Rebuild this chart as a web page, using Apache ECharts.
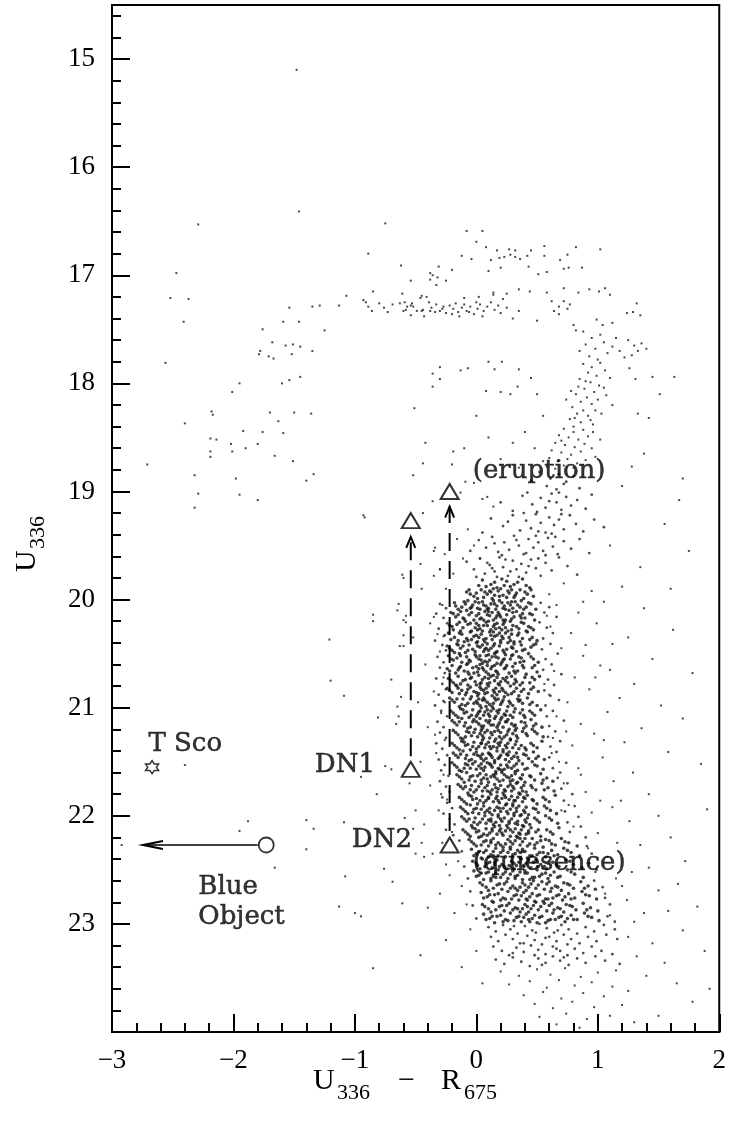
<!DOCTYPE html>
<html>
<head>
<meta charset="utf-8">
<script src="https://cdn.jsdelivr.net/npm/echarts@6/dist/echarts.min.js"></script>
<style>html,body{margin:0;padding:0;background:#fff}#c{width:729px;height:1122px}</style>
</head>
<body>
<div id="c"></div>
<script>
// ---- axis ticks ----
const xTickValues = [-3, -2, -1, 0, 1, 2];
const yTickValues = [15, 16, 17, 18, 19, 20, 21, 22, 23];

// ---- special objects ----
const dnQuiescent = [[-0.54, 21.57], [-0.22, 22.27]];
const dnEruption = [[-0.54, 19.27], [-0.22, 19.0]];
const dnArrows = [[-0.54, 21.45, -0.54, 19.42], [-0.22, 22.14, -0.22, 19.14]];
const tSco = [[-2.67, 21.55]];
const blueObject = [[-1.73, 22.27]];
const blueArrow = [[-1.80, 22.27, -2.745, 22.27]];
const annotationLabels = [
  { text: 'T Sco', at: [-2.704, 21.34], side: 'right' },
  { text: 'DN1', at: [-0.831, 21.53], side: 'left' },
  { text: 'DN2', at: [-0.526, 22.23], side: 'left' },
  { text: '(eruption)', at: [-0.033, 18.81], side: 'right' },
  { text: '(quiesence)', at: [-0.033, 22.44], side: 'right' },
  { text: 'Blue', at: [-2.293, 22.66], side: 'right' },
  { text: 'Object', at: [-2.293, 22.94], side: 'right' }
];

// ---- stars (U336-R675, U336) ----
const fieldStars = [
[-1.48,15.10],[-1.46,16.41],[-2.29,16.53],[-0.75,16.52],[-0.89,16.80],[-0.62,16.91],[-2.47,16.98],[-0.54,17.05],[-0.31,16.92],
[-2.52,17.21],[-2.37,17.22],[-2.41,17.43],[-1.07,17.19],[-0.85,17.15],
[-1.54,17.30],[-1.35,17.29],[-1.29,17.28],[-1.13,17.28],[-1.59,17.43],[-1.46,17.43],[-1.25,17.51],[-1.76,17.50],[-1.68,17.62],[-1.57,17.65],[-1.51,17.64],[-1.45,17.66],[-1.35,17.70],[-1.78,17.70],[-1.79,17.73],[-1.71,17.75],[-1.67,17.77],[-1.52,17.73],[-2.56,17.81],[-1.95,18.00],[-1.60,18.00],[-1.54,17.97],[-1.45,17.94],[-2.01,18.08],[-2.18,18.26],[-2.17,18.29],[-2.40,18.37],[-1.70,18.27],[-1.50,18.27],[-1.36,18.28],[-1.63,18.35],[-1.92,18.44],[-1.76,18.45],[-1.59,18.46],[-2.19,18.51],[-2.14,18.52],[-2.02,18.56],[-1.80,18.56],[-1.90,18.60],[-2.19,18.63],[-2.01,18.63],[-2.19,18.68],[-1.66,18.67],[-1.51,18.72],[-2.71,18.75],[-2.32,18.85],[-1.98,18.88],[-1.34,18.84],[-0.51,18.23],[-0.42,18.55],[-0.44,18.74],[-0.52,18.85],[-1.40,18.90],
[-2.29,19.02],[-1.95,19.03],[-1.80,19.08],[-2.32,19.15],[-0.93,19.22],[-0.85,20.14],[-1.21,20.37],[-1.20,20.75],[-1.09,20.89],[-0.81,21.09],[-0.70,20.74],[-0.64,20.04],[-0.61,19.77],[-0.60,20.19],[-0.60,20.33],[-0.60,20.43],[-0.65,20.99],[-0.64,21.08],[-0.66,21.15],[-2.40,21.53],[-0.95,21.64],[-0.75,21.54],[-0.70,21.57],[-0.82,21.80],[-1.88,22.05],[-1.95,22.14],[-1.40,22.04],[-1.34,22.12],[-1.09,22.06],[-1.40,22.31],[-1.66,22.48],[-1.08,22.56],[-0.88,22.21],[-0.76,22.49],[-0.69,22.61],[-0.61,22.81],[-1.13,22.84],[-1.00,22.90],[-0.95,22.93],[-2.92,22.27],[-0.46,23.29],[-0.85,23.41],[-0.59,22.02],[-0.52,22.12],[-0.45,22.25],[-0.43,22.38],[-0.50,21.95],
[-0.19,18.63],[-0.20,18.75],[-0.36,19.09],[-0.44,19.20],[-0.92,19.24],[-0.34,19.52],[-0.26,19.58],[-0.46,19.67],[-0.60,19.80],[-0.35,19.78],[-0.30,19.72],[-0.25,19.90],[-0.65,20.10],[-0.85,20.20],[-0.58,20.21],[-0.35,20.16],[-0.63,20.43],[-0.27,20.34],[-0.13,19.01],[-0.09,18.91],[-0.02,18.92],[0.05,19.07],[0.09,19.05],[0.14,19.14],[-0.07,19.35],[-0.16,19.44],[-0.02,19.50],[0.03,19.62],[-0.11,19.62],[-0.19,19.76]
];

const hbStars = [
[-0.93,17.23],[-0.91,17.25],[-0.89,17.29],[-0.86,17.33],[-0.80,17.26],[-0.76,17.3],[-0.73,17.34],[-0.69,17.27],
[-0.63,17.26],[-0.61,17.17],[-0.59,17.25],[-0.57,17.29],[-0.6,17.33],[-0.58,17.32],[-0.54,17.28],[-0.54,17.37],[-0.53,17.26],[-0.52,17.29],[-0.49,17.33],[-0.46,17.21],[-0.45,17.19],[-0.45,17.33],[-0.44,17.32],[-0.43,17.38],[-0.41,17.2],[-0.39,17.25],[-0.38,17.33],[-0.38,16.98],[-0.38,17.04],[-0.36,17.0],[-0.33,17.09],[-0.25,17.05],
[-0.37,17.3],[-0.33,17.27],[-0.3,17.33],[-0.27,17.29],[-0.25,17.35],[-0.22,17.28],[-0.19,17.31],[-0.17,17.26],[-0.15,17.34],[-0.12,17.3],[-0.1,17.27],[-0.08,17.33],[-0.05,17.29],[-0.02,17.36],[0.01,17.31],[0.03,17.27],[0.06,17.33],[0.09,17.29],[0.12,17.25],[0.15,17.32],[0.18,17.28],[0.22,17.22],[0.25,17.3],[-0.34,17.34],[-0.28,17.31],[-0.2,17.36],[-0.14,17.38],[-0.06,17.34],[0.0,17.25],[0.05,17.38],[-0.1,17.21],[0.14,17.18],[0.02,17.2],
[0.14,17.16],[0.25,17.17],[0.35,17.13],[0.44,17.15],[0.58,17.16],[0.72,17.12],[0.84,17.16],[0.93,17.13],[1.01,17.15],[1.06,17.12],[1.1,17.18]
];

const topArc = [
[-0.08,16.59],[0.05,16.59],[0.0,16.69],[0.08,16.74],[0.17,16.77],[0.27,16.76],[0.32,16.77],[0.45,16.77],[0.56,16.73],[0.82,16.74],[1.02,16.76],[-0.12,16.82],[-0.04,16.85],[0.12,16.86],[0.19,16.84],[0.23,16.83],[0.28,16.81],[0.32,16.83],[0.36,16.85],[0.42,16.82],[0.43,16.92],[0.56,16.82],[0.69,16.86],[0.75,16.81],[0.51,16.99],[0.58,16.97],[0.72,16.94],[0.76,16.93],[0.87,16.93],[0.2,16.93],[0.1,16.96],[-0.2,16.95],[-0.32,17.02],
[0.62,17.24],[0.68,17.29],[0.72,17.24],[0.64,17.33],[0.68,17.36],[0.75,17.31],[0.77,17.27],[1.24,17.35],[1.29,17.34],[1.35,17.37],[1.32,17.26],[0.99,17.41],[1.04,17.46],[1.12,17.44],[0.8,17.46],[0.82,17.51],[0.2,17.35],[0.3,17.4],[0.35,17.33],[0.5,17.42]
];

const rgbStars = [
[0.88,17.52],[0.95,17.58],[1.02,17.55],[0.9,17.64],[0.98,17.68],[1.05,17.62],[1.12,17.66],[1.08,17.72],[1.18,17.7],[1.25,17.6],[1.3,17.65],[1.36,17.63],[1.33,17.7],[1.4,17.68],[1.28,17.74],[0.93,17.75],[1.0,17.78],[1.15,17.58],[0.85,17.7],[1.22,17.76],
[0.88,17.82],[0.95,17.85],[1.02,17.81],[0.92,17.9],[0.99,17.93],[1.06,17.88],[0.85,17.96],[0.94,17.99],[1.01,18.02],[0.89,18.05],[0.97,18.08],[0.82,18.1],[1.05,18.04],[0.91,18.13],[0.86,18.17],[0.95,18.19],[0.79,18.22],[1.0,18.15],[0.88,18.25],[0.83,18.28],[0.92,18.3],[0.77,18.33],[0.86,18.36],[0.96,18.38],[0.8,18.4],[1.1,17.95],[0.98,18.25],[0.74,18.15],[1.12,18.2],[0.9,17.98],[0.84,18.03],[1.07,18.11],[0.81,18.32],[0.94,18.34],[1.03,18.28],[0.78,18.07],
[0.72,18.42],[0.8,18.45],[0.88,18.43],[0.68,18.48],[0.76,18.5],[0.84,18.52],[0.92,18.49],[0.65,18.55],[0.73,18.57],[0.81,18.59],[0.89,18.56],[0.62,18.62],[0.7,18.64],[0.78,18.66],[0.86,18.63],[0.95,18.6],[0.6,18.69],[0.67,18.72],[0.75,18.7],[0.83,18.74],[0.9,18.71],[0.58,18.77],[0.65,18.79],[0.72,18.76],[0.8,18.78],[0.98,18.68],[0.55,18.72],[1.02,18.52],[0.7,18.53],[0.96,18.45],
[0.1,17.8],[0.21,17.8],[-0.3,17.85],[-0.13,17.88],[-0.07,17.86],[0.15,17.87],[0.35,17.87],[-0.36,17.91],[-0.3,17.96],[-0.36,18.03],[0.08,18.07],[0.2,18.08],[0.28,18.1],[0.34,18.03],[0.5,18.1],[0.45,17.95],[0.55,18.3],[0.4,18.45],[0.3,18.55],[0.48,18.6],[0.2,18.7],[0.35,18.78],[0.1,18.5],[-0.1,18.6],[0.0,18.3],
[1.26,17.86],[1.31,17.96],[1.45,17.94],[1.63,17.94],[1.51,18.1],[1.33,18.28],[1.42,18.32],[1.7,18.88],[1.67,19.08],[1.28,18.77],[1.38,18.65],[1.2,18.95],[1.55,19.3],[1.75,19.55],[1.1,19.5],[1.35,19.7],[1.6,19.9]
];

const sgbStars = [
[0.52,18.82],[0.61,18.88],[0.68,18.84],[0.74,18.91],[0.8,18.86],[0.58,18.95],[0.66,18.98],[0.72,18.93],[0.85,18.97],[0.45,18.9],
[0.38,19.04],[0.46,19.12],[0.53,19.06],[0.57,19.15],[0.62,19.02],[0.66,19.1],[0.7,19.17],[0.74,19.05],[0.78,19.13],[0.83,19.08],[0.9,19.16],[0.2,19.1],[0.3,19.18],[0.5,19.19],[0.6,19.09],[0.68,19.01],[0.95,19.03],[0.42,19.01],
[0.12,19.25],[0.22,19.32],[0.3,19.22],[0.36,19.36],[0.41,19.27],[0.45,19.34],[0.49,19.21],[0.53,19.29],[0.57,19.38],[0.6,19.24],[0.64,19.31],[0.68,19.26],[0.72,19.35],[0.77,19.22],[0.82,19.3],[0.88,19.37],[0.97,19.26],[1.05,19.33],[0.05,19.38],[0.26,19.28],[0.39,19.2],[0.51,19.37],[0.62,19.39],[0.7,19.21],
[0.02,19.45],[0.08,19.52],[0.13,19.42],[0.18,19.56],[0.23,19.47],[0.27,19.54],[0.31,19.41],[0.35,19.5],[0.39,19.58],[0.43,19.44],[0.47,19.52],[0.51,19.47],[0.55,19.55],[0.59,19.43],[0.63,19.51],[0.67,19.58],[0.72,19.46],[0.78,19.53],[0.85,19.44],[0.93,19.57],[-0.05,19.55],[0.21,19.59],[0.33,19.45],[0.41,19.57],[0.49,19.41],[0.57,19.59],[0.65,19.42],[0.15,19.48],
[-0.08,19.65],[-0.02,19.72],[0.03,19.62],[0.07,19.76],[0.11,19.68],[0.15,19.74],[0.19,19.61],[0.22,19.7],[0.26,19.78],[0.3,19.64],[0.33,19.72],[0.37,19.67],[0.41,19.75],[0.45,19.63],[0.49,19.71],[0.53,19.78],[0.57,19.66],[0.62,19.73],[0.68,19.61],[0.75,19.69],[0.83,19.77],[0.0,19.79],[0.09,19.66],[0.17,19.79],[0.24,19.63],[0.28,19.74],[0.35,19.79],[0.43,19.69],[0.51,19.62],[0.13,19.71]
];

const msEdgeLeft = [
[-0.3,20.04],[-0.25,20.08],[-0.33,20.13],[-0.27,20.17],[-0.24,20.22],[-0.31,20.27],[-0.26,20.33],[-0.34,20.38],[-0.28,20.42],[-0.25,20.47],[-0.32,20.53],[-0.27,20.58],[-0.3,20.63],[-0.26,20.68],[-0.33,20.73],[-0.28,20.78],[-0.25,20.83],[-0.31,20.88],[-0.27,20.94],[-0.34,20.98],[-0.29,21.03],[-0.24,21.08],[-0.32,21.13],[-0.27,21.18],[-0.3,21.23],[-0.25,21.28],[-0.33,21.33],[-0.28,21.38],[-0.24,21.44],[-0.31,21.48],[-0.26,21.53],[-0.29,21.58],[-0.23,21.63],[-0.3,21.68],[-0.25,21.73],[-0.22,21.78],[-0.28,21.83],[-0.24,21.88],[-0.2,21.93],[-0.27,21.98],[-0.22,22.03],[-0.18,22.08],[-0.25,22.13],[-0.19,22.18],[-0.14,22.23],[-0.12,22.33],[-0.1,22.47],[-0.07,22.58],[-0.05,22.7],[-0.03,22.83],[0.0,22.95]
];

const msEdgeRight = [
[0.53,20.03],[0.6,20.07],[0.56,20.12],[0.66,20.16],[0.52,20.21],[0.58,20.26],[0.63,20.31],[0.55,20.36],[0.61,20.41],[0.54,20.46],[0.67,20.5],[0.57,20.55],[0.62,20.6],[0.55,20.65],[0.7,20.69],[0.59,20.74],[0.64,20.79],[0.56,20.84],[0.61,20.89],[0.68,20.93],[0.57,20.98],[0.63,21.03],[0.58,21.08],[0.72,21.12],[0.6,21.17],[0.65,21.22],[0.59,21.27],[0.69,21.31],[0.61,21.36],[0.66,21.41],[0.6,21.46],[0.74,21.51],[0.63,21.56],[0.69,21.6],[0.67,21.65],[0.75,21.7],[0.7,21.75],[0.79,21.8],[0.72,21.86],[0.81,21.91],[0.73,21.96],[0.84,22.01],[0.75,22.06],[0.86,22.1],[0.77,22.15],[0.9,22.2],[0.91,22.28],[0.95,22.35],[0.93,22.44],[0.99,22.5],[0.97,22.6],[1.04,22.66],[1.06,22.76],[1.1,22.82],[1.08,22.93],[1.14,22.98]
];

const msUpper = [
[0.05,19.82],[0.12,19.86],[0.21,19.81],[0.28,19.88],[0.34,19.84],[0.41,19.87],[0.17,19.89],[0.08,19.88],[0.25,19.83],[0.38,19.81],[0.02,19.87],[0.31,19.86],[0.15,19.84],[0.44,19.89],[0.23,19.87],
[-0.08,19.93],[-0.02,19.97],[0.04,19.91],[0.09,19.95],[0.13,19.99],[0.18,19.92],[0.22,19.96],[0.27,19.94],[0.31,19.98],[0.36,19.91],[0.42,19.95],[0.47,19.97],[0.01,19.99],[0.07,19.93],[0.15,19.96],[0.2,19.9],[0.25,19.98],[0.33,19.94],[0.39,19.99],[-0.05,19.95],[0.11,19.92],[0.29,19.91],
[-0.18,20.03],[-0.12,20.07],[-0.07,20.01],[-0.03,20.05],[0.01,20.08],[0.05,20.02],[0.08,20.06],[0.12,20.04],[0.16,20.09],[0.19,20.01],[0.23,20.06],[0.26,20.03],[0.3,20.08],[0.34,20.05],[0.37,20.01],[0.41,20.07],[0.45,20.04],[0.49,20.09],[-0.15,20.09],[-0.09,20.04],[-0.01,20.02],[0.03,20.09],[0.1,20.08],[0.14,20.01],[0.21,20.03],[0.28,20.05],[0.32,20.02],[0.39,20.09],[0.06,20.05],[0.17,20.06],[-0.05,20.08],[0.24,20.09],
[-0.21,20.12],[-0.17,20.16],[-0.13,20.11],[-0.1,20.18],[-0.06,20.14],[-0.02,20.19],[0.02,20.13],[0.04,20.17],[0.07,20.11],[0.11,20.15],[0.14,20.19],[0.18,20.12],[0.2,20.16],[0.25,20.14],[0.29,20.18],[0.33,20.11],[0.36,20.15],[0.4,20.17],[0.44,20.13],[0.48,20.19],[-0.08,20.1],[0.0,20.15],[0.09,20.14],[0.13,20.12],[0.16,20.17],[0.22,20.19],[0.27,20.1],[0.31,20.16],[0.38,20.13],[-0.15,20.14],[0.06,20.19],[0.19,20.14],
[-0.22,20.24],[-0.19,20.28],[-0.14,20.21],[-0.11,20.26],[-0.07,20.23],[-0.04,20.29],[0.0,20.22],[0.03,20.27],[0.06,20.24],[0.1,20.2],[0.12,20.28],[0.15,20.23],[0.19,20.26],[0.23,20.21],[0.26,20.29],[0.3,20.24],[0.35,20.27],[0.39,20.22],[0.43,20.25],[0.47,20.28],[-0.16,20.23],[-0.09,20.2],[-0.01,20.26],[0.05,20.29],[0.08,20.21],[0.14,20.25],[0.21,20.28],[0.28,20.2],[0.33,20.25],[0.41,20.29],[0.17,20.22],[0.02,20.24],[0.24,20.26],
[-0.23,20.31],[-0.18,20.35],[-0.15,20.38],[-0.12,20.32],[-0.08,20.36],[-0.05,20.3],[-0.02,20.34],[0.01,20.39],[0.04,20.32],[0.08,20.36],[0.11,20.3],[0.13,20.37],[0.17,20.33],[0.2,20.38],[0.24,20.31],[0.27,20.35],[0.31,20.39],[0.34,20.33],[0.38,20.36],[0.42,20.3],[0.46,20.35],[0.5,20.38],[-0.1,20.39],[-0.04,20.37],[0.02,20.35],[0.07,20.39],[0.15,20.34],[0.22,20.36],[0.29,20.32],[0.36,20.39],[0.12,20.33],[0.19,20.31],
[-0.24,20.43],[-0.2,20.47],[-0.16,20.41],[-0.13,20.45],[-0.09,20.49],[-0.06,20.42],[-0.03,20.46],[0.0,20.4],[0.03,20.44],[0.06,20.48],[0.09,20.41],[0.12,20.45],[0.16,20.49],[0.19,20.43],[0.22,20.47],[0.26,20.4],[0.29,20.44],[0.33,20.48],[0.37,20.42],[0.4,20.46],[0.45,20.44],[0.49,20.41],[-0.18,20.49],[-0.11,20.43],[-0.01,20.48],[0.05,20.42],[0.1,20.47],[0.14,20.43],[0.2,20.4],[0.25,20.46],[0.31,20.41],[0.08,20.45],[0.17,20.48],
[-0.23,20.52],[-0.19,20.56],[-0.14,20.5],[-0.12,20.58],[-0.08,20.53],[-0.05,20.57],[-0.01,20.51],[0.02,20.55],[0.05,20.59],[0.08,20.52],[0.11,20.56],[0.15,20.5],[0.18,20.54],[0.21,20.58],[0.24,20.51],[0.28,20.55],[0.32,20.59],[0.35,20.53],[0.39,20.57],[0.43,20.5],[0.47,20.55],[0.51,20.58],[-0.16,20.54],[-0.07,20.59],[0.0,20.53],[0.07,20.57],[0.13,20.53],[0.17,20.59],[0.23,20.55],[0.3,20.51],[0.37,20.54],[0.1,20.51],[0.04,20.56],
[-0.24,20.64],[-0.2,20.61],[-0.17,20.68],[-0.13,20.62],[-0.1,20.66],[-0.06,20.69],[-0.03,20.63],[0.01,20.67],[0.03,20.6],[0.06,20.65],[0.1,20.69],[0.13,20.62],[0.16,20.66],[0.2,20.6],[0.23,20.64],[0.27,20.68],[0.3,20.62],[0.34,20.66],[0.38,20.61],[0.41,20.69],[0.46,20.63],[0.5,20.67],[-0.15,20.65],[-0.08,20.6],[0.0,20.62],[0.08,20.67],[0.12,20.64],[0.18,20.69],[0.25,20.61],[0.32,20.68],[0.05,20.63],[0.15,20.61],[-0.02,20.68],
[-0.23,20.73],[-0.19,20.77],[-0.15,20.71],[-0.11,20.75],[-0.07,20.79],[-0.04,20.72],[-0.01,20.76],[0.02,20.7],[0.05,20.74],[0.09,20.78],[0.12,20.71],[0.15,20.75],[0.19,20.79],[0.22,20.73],[0.26,20.77],[0.29,20.71],[0.33,20.76],[0.36,20.79],[0.4,20.72],[0.44,20.77],[0.48,20.74],[0.52,20.71],[-0.17,20.79],[-0.09,20.74],[0.0,20.79],[0.07,20.72],[0.11,20.77],[0.17,20.72],[0.24,20.75],[0.31,20.78],[0.14,20.7],[0.04,20.77],[0.2,20.76],
[-0.24,20.82],[-0.2,20.86],[-0.16,20.8],[-0.12,20.84],[-0.09,20.88],[-0.05,20.81],[-0.02,20.85],[0.01,20.89],[0.04,20.83],[0.07,20.87],[0.1,20.8],[0.14,20.84],[0.17,20.88],[0.21,20.82],[0.24,20.86],[0.28,20.8],[0.31,20.85],[0.35,20.89],[0.39,20.83],[0.43,20.87],[0.47,20.81],[0.51,20.85],[-0.14,20.87],[-0.07,20.83],[0.03,20.81],[0.09,20.86],[0.13,20.89],[0.19,20.85],[0.26,20.88],[0.33,20.82],[0.06,20.84],[0.16,20.82],[0.0,20.86],
[-0.22,20.91],[-0.18,20.95],[-0.14,20.99],[-0.11,20.92],[-0.07,20.96],[-0.04,20.9],[0.0,20.94],[0.03,20.98],[0.06,20.91],[0.09,20.95],[0.13,20.99],[0.16,20.93],[0.2,20.97],[0.23,20.9],[0.27,20.94],[0.3,20.98],[0.34,20.92],[0.38,20.96],[0.42,20.91],[0.46,20.95],[0.5,20.98],[-0.16,20.92],[-0.09,20.98],[-0.02,20.96],[0.05,20.93],[0.11,20.97],[0.15,20.91],[0.21,20.95],[0.26,20.99],[0.36,20.93],[0.08,20.99],[0.18,20.92],[0.02,20.92]
];

const msMiddle = [
[-0.21,21.03],[-0.17,21.07],[-0.13,21.01],[-0.1,21.05],[-0.06,21.09],[-0.03,21.02],[0.01,21.06],[0.04,21.0],[0.07,21.04],[0.11,21.08],[0.14,21.01],[0.18,21.05],[0.21,21.09],[0.25,21.03],[0.28,21.07],[0.32,21.01],[0.36,21.05],[0.4,21.09],[0.44,21.03],[0.48,21.07],[0.53,21.02],[-0.15,21.09],[-0.08,21.04],[0.0,21.08],[0.06,21.07],[0.12,21.03],[0.16,21.08],[0.23,21.06],[0.3,21.09],[0.38,21.02],[0.09,21.02],[0.19,21.02],[0.02,21.04],
[-0.2,21.12],[-0.16,21.16],[-0.12,21.1],[-0.09,21.14],[-0.05,21.18],[-0.02,21.11],[0.02,21.15],[0.05,21.19],[0.08,21.12],[0.12,21.16],[0.15,21.1],[0.19,21.14],[0.22,21.18],[0.26,21.11],[0.29,21.15],[0.33,21.19],[0.37,21.13],[0.41,21.17],[0.45,21.11],[0.49,21.15],[0.54,21.18],[-0.14,21.13],[-0.07,21.19],[0.0,21.13],[0.06,21.17],[0.1,21.14],[0.17,21.18],[0.24,21.13],[0.31,21.17],[0.14,21.16],[0.2,21.11],[0.03,21.1],[0.39,21.19],
[-0.19,21.21],[-0.15,21.25],[-0.11,21.29],[-0.08,21.22],[-0.04,21.26],[-0.01,21.2],[0.03,21.24],[0.06,21.28],[0.09,21.21],[0.13,21.25],[0.16,21.29],[0.2,21.23],[0.23,21.27],[0.27,21.2],[0.3,21.24],[0.34,21.28],[0.38,21.22],[0.42,21.26],[0.46,21.2],[0.5,21.24],[0.55,21.27],[-0.13,21.28],[-0.06,21.23],[0.01,21.27],[0.07,21.23],[0.11,21.28],[0.18,21.21],[0.25,21.25],[0.32,21.21],[0.15,21.22],[0.21,21.29],[0.04,21.21],[0.28,21.29],
[-0.2,21.33],[-0.16,21.37],[-0.12,21.31],[-0.09,21.35],[-0.05,21.39],[-0.02,21.32],[0.02,21.36],[0.05,21.3],[0.08,21.34],[0.12,21.38],[0.15,21.31],[0.19,21.35],[0.22,21.39],[0.26,21.33],[0.3,21.37],[0.33,21.31],[0.37,21.35],[0.41,21.39],[0.45,21.33],[0.5,21.37],[0.54,21.31],[-0.14,21.39],[-0.07,21.34],[0.0,21.38],[0.07,21.37],[0.1,21.32],[0.17,21.37],[0.24,21.35],[0.28,21.3],[0.35,21.38],[0.14,21.36],[0.04,21.33],[0.2,21.32],
[-0.19,21.42],[-0.15,21.46],[-0.11,21.4],[-0.08,21.44],[-0.04,21.48],[0.0,21.41],[0.03,21.45],[0.06,21.49],[0.1,21.42],[0.13,21.46],[0.17,21.4],[0.2,21.44],[0.24,21.48],[0.27,21.41],[0.31,21.45],[0.35,21.49],[0.39,21.43],[0.43,21.47],[0.47,21.41],[0.51,21.45],[0.56,21.48],[-0.13,21.43],[-0.06,21.49],[0.01,21.44],[0.08,21.47],[0.12,21.44],[0.18,21.47],[0.25,21.43],[0.33,21.42],[0.15,21.49],[0.22,21.41],[0.05,21.43],[0.29,21.47],
[-0.2,21.51],[-0.16,21.55],[-0.12,21.59],[-0.09,21.52],[-0.05,21.56],[-0.01,21.5],[0.02,21.54],[0.06,21.58],[0.09,21.51],[0.13,21.55],[0.16,21.59],[0.2,21.53],[0.23,21.57],[0.27,21.5],[0.31,21.54],[0.34,21.58],[0.38,21.52],[0.42,21.56],[0.46,21.5],[0.5,21.54],[0.55,21.57],[-0.14,21.58],[-0.07,21.53],[0.0,21.57],[0.07,21.55],[0.11,21.52],[0.18,21.56],[0.25,21.53],[0.32,21.59],[0.15,21.51],[0.21,21.58],[0.04,21.52],[0.29,21.56],
[-0.16,21.62],[-0.12,21.66],[-0.08,21.6],[-0.05,21.64],[-0.01,21.68],[0.03,21.61],[0.06,21.65],[0.1,21.69],[0.14,21.62],[0.17,21.66],[0.21,21.6],[0.25,21.64],[0.28,21.68],[0.32,21.61],[0.36,21.65],[0.4,21.69],[0.44,21.63],[0.48,21.67],[0.53,21.61],[0.58,21.65],[0.63,21.68],[-0.1,21.69],[-0.03,21.63],[0.04,21.67],[0.12,21.64],[0.19,21.68],[0.23,21.62],[0.3,21.67],[0.38,21.62],[0.16,21.61],[0.27,21.65],[0.08,21.62],[0.34,21.69],
[-0.15,21.71],[-0.11,21.75],[-0.07,21.79],[-0.04,21.72],[0.0,21.76],[0.04,21.7],[0.07,21.74],[0.11,21.78],[0.15,21.71],[0.18,21.75],[0.22,21.79],[0.26,21.73],[0.29,21.77],[0.33,21.7],[0.37,21.74],[0.41,21.78],[0.45,21.72],[0.49,21.76],[0.54,21.7],[0.59,21.74],[0.64,21.77],[-0.09,21.73],[-0.02,21.78],[0.05,21.77],[0.13,21.76],[0.2,21.72],[0.24,21.77],[0.31,21.75],[0.39,21.72],[0.17,21.78],[0.28,21.71],[0.09,21.72],[0.35,21.79],
[-0.14,21.83],[-0.1,21.87],[-0.06,21.81],[-0.03,21.85],[0.01,21.89],[0.05,21.82],[0.08,21.86],[0.12,21.8],[0.16,21.84],[0.19,21.88],[0.23,21.81],[0.27,21.85],[0.3,21.89],[0.34,21.83],[0.38,21.87],[0.42,21.81],[0.46,21.85],[0.5,21.89],[0.55,21.83],[0.6,21.87],[0.65,21.81],[-0.08,21.89],[0.0,21.84],[0.06,21.88],[0.14,21.87],[0.21,21.84],[0.25,21.89],[0.32,21.86],[0.4,21.84],[0.17,21.82],[0.29,21.82],[0.1,21.84],[0.36,21.8],
[-0.13,21.92],[-0.09,21.96],[-0.05,21.9],[-0.02,21.94],[0.02,21.98],[0.06,21.91],[0.09,21.95],[0.13,21.99],[0.17,21.92],[0.2,21.96],[0.24,21.9],[0.28,21.94],[0.31,21.98],[0.35,21.91],[0.39,21.95],[0.43,21.99],[0.47,21.93],[0.51,21.97],[0.56,21.91],[0.61,21.95],[0.66,21.98],[-0.07,21.98],[0.0,21.93],[0.07,21.97],[0.15,21.95],[0.22,21.93],[0.26,21.98],[0.33,21.96],[0.41,21.92],[0.18,21.99],[0.3,21.91],[0.11,21.93],[0.37,21.99],
[-0.12,22.01],[-0.08,22.05],[-0.04,22.09],[-0.01,22.02],[0.03,22.06],[0.07,22.0],[0.1,22.04],[0.14,22.08],[0.18,22.01],[0.21,22.05],[0.25,22.09],[0.29,22.03],[0.32,22.07],[0.36,22.0],[0.4,22.04],[0.44,22.08],[0.48,22.02],[0.52,22.06],[0.57,22.0],[0.62,22.04],[0.67,22.07],[-0.06,22.03],[0.01,22.08],[0.08,22.07],[0.16,22.06],[0.23,22.02],[0.27,22.07],[0.34,22.05],[0.42,22.02],[0.19,22.09],[0.31,22.0],[0.12,22.03],[0.38,22.09],
[-0.11,22.13],[-0.07,22.17],[-0.03,22.11],[0.0,22.15],[0.04,22.19],[0.08,22.12],[0.11,22.16],[0.15,22.1],[0.19,22.14],[0.22,22.18],[0.26,22.11],[0.3,22.15],[0.33,22.19],[0.37,22.13],[0.41,22.17],[0.45,22.11],[0.49,22.15],[0.53,22.19],[0.58,22.13],[0.63,22.17],[0.68,22.11],[-0.05,22.19],[0.02,22.14],[0.09,22.18],[0.17,22.17],[0.24,22.14],[0.28,22.19],[0.35,22.16],[0.43,22.14],[0.2,22.12],[0.32,22.12],[0.13,22.14],[0.39,22.1]
];

const msLower = [
[-0.06,22.22],[-0.02,22.26],[0.02,22.2],[0.06,22.24],[0.1,22.28],[0.14,22.21],[0.18,22.25],[0.22,22.29],[0.26,22.22],[0.3,22.26],[0.34,22.2],[0.38,22.24],[0.42,22.28],[0.46,22.21],[0.5,22.25],[0.55,22.29],[0.6,22.23],[0.65,22.27],[0.7,22.21],[0.76,22.25],[0.83,22.28],[0.0,22.28],[0.08,22.23],[0.16,22.27],[0.24,22.26],[0.32,22.23],[0.4,22.21],[0.48,22.27],[0.57,22.22],[0.28,22.29],[0.12,22.25],[0.36,22.27],
[-0.04,22.31],[0.0,22.35],[0.04,22.39],[0.08,22.32],[0.12,22.36],[0.16,22.3],[0.2,22.34],[0.24,22.38],[0.28,22.31],[0.32,22.35],[0.36,22.39],[0.4,22.33],[0.44,22.37],[0.48,22.3],[0.52,22.34],[0.57,22.38],[0.62,22.32],[0.67,22.36],[0.72,22.3],[0.78,22.34],[0.85,22.37],[0.02,22.33],[0.1,22.38],[0.18,22.37],[0.26,22.34],[0.34,22.32],[0.42,22.39],[0.5,22.36],[0.59,22.35],[0.3,22.38],[0.14,22.33],[0.38,22.31],
[-0.03,22.42],[0.01,22.46],[0.05,22.4],[0.09,22.44],[0.13,22.48],[0.17,22.41],[0.21,22.45],[0.25,22.49],[0.29,22.42],[0.33,22.46],[0.37,22.4],[0.41,22.44],[0.45,22.48],[0.49,22.41],[0.53,22.45],[0.58,22.49],[0.63,22.43],[0.68,22.47],[0.74,22.41],[0.8,22.45],[0.87,22.48],[0.03,22.49],[0.11,22.43],[0.19,22.47],[0.27,22.46],[0.35,22.43],[0.43,22.41],[0.51,22.47],[0.6,22.42],[0.31,22.49],[0.15,22.45],[0.39,22.47],
[-0.02,22.51],[0.02,22.55],[0.06,22.59],[0.1,22.52],[0.14,22.56],[0.18,22.5],[0.22,22.54],[0.26,22.58],[0.3,22.51],[0.34,22.55],[0.38,22.59],[0.42,22.53],[0.46,22.57],[0.5,22.5],[0.54,22.54],[0.59,22.58],[0.64,22.52],[0.69,22.56],[0.75,22.5],[0.81,22.54],[0.88,22.57],[0.04,22.53],[0.12,22.58],[0.2,22.57],[0.28,22.54],[0.36,22.52],[0.44,22.59],[0.52,22.56],[0.61,22.55],[0.32,22.58],[0.16,22.53],[0.4,22.51],
[0.03,22.62],[0.08,22.66],[0.12,22.6],[0.17,22.64],[0.21,22.68],[0.25,22.61],[0.3,22.65],[0.34,22.69],[0.38,22.62],[0.43,22.66],[0.47,22.6],[0.51,22.64],[0.56,22.68],[0.6,22.61],[0.65,22.65],[0.7,22.69],[0.75,22.63],[0.8,22.67],[0.86,22.61],[0.92,22.65],[0.98,22.68],[0.1,22.69],[0.19,22.63],[0.28,22.67],[0.36,22.66],[0.45,22.63],[0.54,22.61],[0.62,22.67],[0.72,22.62],[0.41,22.69],
[0.04,22.71],[0.09,22.75],[0.13,22.79],[0.18,22.72],[0.22,22.76],[0.26,22.7],[0.31,22.74],[0.35,22.78],[0.39,22.71],[0.44,22.75],[0.48,22.79],[0.52,22.73],[0.57,22.77],[0.61,22.7],[0.66,22.74],[0.71,22.78],[0.76,22.72],[0.81,22.76],[0.87,22.7],[0.93,22.74],[0.99,22.77],[0.11,22.73],[0.2,22.78],[0.29,22.77],[0.37,22.74],[0.46,22.72],[0.55,22.79],[0.63,22.76],[0.73,22.75],[0.42,22.78],
[0.05,22.82],[0.1,22.86],[0.14,22.8],[0.19,22.84],[0.23,22.88],[0.27,22.81],[0.32,22.85],[0.36,22.89],[0.4,22.82],[0.45,22.86],[0.49,22.8],[0.53,22.84],[0.58,22.88],[0.62,22.81],[0.67,22.85],[0.72,22.89],[0.77,22.83],[0.82,22.87],[0.88,22.81],[0.94,22.85],[1.0,22.88],[0.12,22.89],[0.21,22.83],[0.3,22.87],[0.38,22.86],[0.47,22.83],[0.56,22.81],[0.64,22.87],[0.74,22.82],[0.43,22.89],
[0.06,22.91],[0.11,22.95],[0.15,22.99],[0.2,22.92],[0.24,22.96],[0.28,22.9],[0.33,22.94],[0.37,22.98],[0.41,22.91],[0.46,22.95],[0.5,22.99],[0.54,22.93],[0.59,22.97],[0.63,22.9],[0.68,22.94],[0.73,22.98],[0.78,22.92],[0.83,22.96],[0.89,22.9],[0.95,22.94],[1.01,22.97],[0.13,22.93],[0.22,22.98],[0.31,22.97],[0.39,22.94],[0.48,22.92],[0.57,22.99],[0.65,22.96],[0.75,22.95],[0.44,22.98]
];

const msFill = [
[-0.06,19.91],[0.0,19.94],[0.06,19.98],[0.12,19.93],[0.19,19.97],[0.26,19.92],[0.32,19.96],[0.4,19.93],[0.45,19.91],[0.14,19.9],
[-0.17,20.06],[-0.1,20.02],[-0.04,20.07],[0.02,20.03],[0.09,20.09],[0.15,20.04],[0.22,20.08],[0.29,20.02],[0.36,20.07],[0.43,20.03],
[-0.19,20.13],[-0.11,20.17],[-0.04,20.12],[0.03,20.18],[0.1,20.11],[0.17,20.15],[0.24,20.19],[0.3,20.12],[0.37,20.17],[0.46,20.14],
[-0.2,20.25],[-0.13,20.29],[-0.05,20.22],[0.01,20.28],[0.09,20.24],[0.16,20.27],[0.22,20.23],[0.29,20.28],[0.37,20.21],[0.45,20.26],
[-0.21,20.37],[-0.14,20.31],[-0.07,20.38],[0.0,20.33],[0.06,20.37],[0.14,20.3],[0.21,20.34],[0.28,20.38],[0.35,20.31],[0.44,20.37],
[-0.22,20.45],[-0.15,20.42],[-0.07,20.47],[0.01,20.43],[0.07,20.46],[0.15,20.41],[0.23,20.49],[0.3,20.45],[0.38,20.47],[0.47,20.42],
[-0.21,20.55],[-0.13,20.52],[-0.06,20.56],[0.03,20.52],[0.09,20.58],[0.16,20.53],[0.22,20.56],[0.29,20.52],[0.36,20.58],[0.45,20.53],
[-0.22,20.66],[-0.14,20.63],[-0.07,20.67],[0.02,20.64],[0.09,20.61],[0.17,20.67],[0.24,20.63],[0.31,20.66],[0.39,20.63],[0.48,20.61],
[-0.21,20.75],[-0.13,20.78],[-0.05,20.73],[0.03,20.78],[0.1,20.73],[0.18,20.78],[0.25,20.72],[0.32,20.74],[0.38,20.77],[0.46,20.72],
[-0.22,20.84],[-0.15,20.82],[-0.08,20.86],[0.02,20.87],[0.08,20.82],[0.15,20.86],[0.22,20.84],[0.29,20.87],[0.37,20.85],[0.45,20.83],
[-0.2,20.93],[-0.12,20.97],[-0.05,20.92],[0.01,20.96],[0.07,20.93],[0.14,20.96],[0.22,20.93],[0.28,20.96],[0.35,20.94],[0.44,20.97],
[-0.19,21.05],[-0.11,21.02],[-0.04,21.07],[0.03,21.03],[0.1,21.06],[0.17,21.03],[0.24,21.07],[0.31,21.04],[0.39,21.07],[0.46,21.05],
[-0.18,21.14],[-0.1,21.17],[-0.03,21.13],[0.04,21.17],[0.11,21.12],[0.18,21.16],[0.25,21.13],[0.32,21.16],[0.4,21.14],[0.47,21.17],
[-0.17,21.23],[-0.09,21.27],[-0.02,21.23],[0.05,21.26],[0.12,21.23],[0.19,21.27],[0.26,21.22],[0.33,21.26],[0.41,21.24],[0.48,21.22],
[-0.18,21.35],[-0.1,21.32],[-0.03,21.36],[0.04,21.33],[0.11,21.36],[0.18,21.33],[0.25,21.37],[0.32,21.34],[0.4,21.37],[0.47,21.35],
[-0.17,21.44],[-0.09,21.47],[-0.02,21.43],[0.04,21.47],[0.11,21.43],[0.19,21.46],[0.26,21.44],[0.34,21.46],[0.41,21.44],[0.49,21.47],
[-0.18,21.53],[-0.1,21.56],[-0.03,21.52],[0.04,21.56],[0.12,21.53],[0.19,21.57],[0.26,21.55],[0.33,21.52],[0.4,21.57],[0.48,21.53],
[-0.14,21.64],[-0.06,21.67],[0.01,21.63],[0.09,21.66],[0.15,21.64],[0.22,21.67],[0.29,21.63],[0.37,21.66],[0.45,21.64],[0.55,21.67],
[-0.13,21.73],[-0.05,21.76],[0.02,21.73],[0.09,21.77],[0.16,21.74],[0.23,21.76],[0.3,21.73],[0.38,21.77],[0.46,21.74],[0.56,21.76],
[-0.12,21.85],[-0.04,21.82],[0.03,21.86],[0.1,21.83],[0.18,21.86],[0.24,21.83],[0.31,21.86],[0.39,21.83],[0.47,21.86],[0.57,21.85],
[-0.11,21.94],[-0.03,21.97],[0.04,21.94],[0.11,21.97],[0.19,21.93],[0.25,21.96],[0.33,21.93],[0.4,21.97],[0.49,21.94],[0.58,21.93],
[-0.1,22.03],[-0.02,22.06],[0.05,22.03],[0.12,22.05],[0.2,22.03],[0.27,22.05],[0.34,22.08],[0.41,22.06],[0.5,22.04],[0.6,22.02],
[-0.09,22.15],[-0.01,22.12],[0.06,22.17],[0.13,22.12],[0.21,22.16],[0.28,22.13],[0.36,22.17],[0.43,22.16],[0.51,22.13],[0.61,22.15],
[-0.04,22.24],[0.04,22.27],[0.12,22.23],[0.2,22.27],[0.28,22.24],[0.36,22.21],[0.44,22.26],[0.53,22.23],[0.62,22.26],[0.73,22.24],
[-0.02,22.37],[0.06,22.34],[0.14,22.37],[0.22,22.32],[0.3,22.36],[0.38,22.33],[0.46,22.37],[0.55,22.34],[0.64,22.37],[0.75,22.32],
[0.0,22.44],[0.07,22.47],[0.15,22.43],[0.23,22.47],[0.31,22.44],[0.39,22.46],[0.47,22.43],[0.56,22.47],[0.66,22.45],[0.77,22.42],
[0.0,22.56],[0.08,22.53],[0.16,22.57],[0.24,22.52],[0.32,22.56],[0.4,22.53],[0.48,22.57],[0.57,22.53],[0.67,22.57],[0.78,22.52],
[0.05,22.64],[0.14,22.67],[0.23,22.63],[0.32,22.67],[0.4,22.64],[0.49,22.67],[0.58,22.63],[0.67,22.66],[0.77,22.64],[0.89,22.67],
[0.06,22.76],[0.15,22.73],[0.24,22.77],[0.33,22.73],[0.41,22.77],[0.5,22.74],[0.59,22.77],[0.68,22.73],[0.78,22.77],[0.9,22.73],
[0.07,22.84],[0.16,22.87],[0.25,22.83],[0.34,22.86],[0.42,22.84],[0.51,22.87],[0.6,22.83],[0.69,22.86],[0.79,22.84],[0.91,22.87],
[0.08,22.96],[0.17,22.93],[0.26,22.97],[0.35,22.93],[0.43,22.96],[0.52,22.94],[0.61,22.96],[0.7,22.93],[0.8,22.96],[0.92,22.93]
];

const msTail = [
[0.1,23.03],[0.16,23.07],[0.22,23.01],[0.28,23.05],[0.34,23.09],[0.4,23.02],[0.46,23.06],[0.52,23.0],[0.58,23.04],[0.64,23.08],[0.7,23.01],[0.76,23.05],[0.83,23.09],[0.9,23.03],[0.97,23.07],[1.05,23.01],[1.14,23.05],[0.31,23.02],[0.49,23.08],[0.67,23.06],
[0.12,23.12],[0.18,23.16],[0.24,23.1],[0.3,23.14],[0.36,23.18],[0.42,23.11],[0.48,23.15],[0.54,23.19],[0.6,23.12],[0.66,23.16],[0.72,23.1],[0.78,23.14],[0.85,23.18],[0.92,23.12],[0.99,23.16],[1.07,23.1],[1.16,23.14],[0.39,23.18],[0.57,23.13],[0.75,23.19],
[0.14,23.21],[0.21,23.25],[0.27,23.29],[0.33,23.22],[0.39,23.26],[0.45,23.2],[0.51,23.24],[0.57,23.28],[0.63,23.21],[0.69,23.25],[0.75,23.29],[0.81,23.23],[0.88,23.27],[0.95,23.21],[1.03,23.25],[1.12,23.28],[0.48,23.29],[0.66,23.23],[0.3,23.27],
[0.16,23.33],[0.23,23.37],[0.3,23.31],[0.37,23.35],[0.44,23.39],[0.51,23.32],[0.57,23.36],[0.63,23.3],[0.69,23.34],[0.76,23.38],[0.83,23.32],[0.9,23.36],[0.98,23.3],[1.06,23.34],[1.18,23.37],[0.54,23.38],[0.72,23.31]
];

const msBottom = [
[0.2,23.44],[0.35,23.48],[0.5,23.42],[0.61,23.47],[0.73,23.41],[0.86,23.49],[1.0,23.45],[1.15,23.43],[0.27,23.56],[0.44,23.53],[0.58,23.59],[0.68,23.52],[0.81,23.57],[0.95,23.54],[1.12,23.58],[0.39,23.66],[0.55,23.63],[0.7,23.69],[0.88,23.64],[1.05,23.67],[1.25,23.62],[0.48,23.74],[0.63,23.78],[0.79,23.72],[0.97,23.77],[1.2,23.75],[0.52,23.86],[0.74,23.83],[0.91,23.88],[1.1,23.85],[0.66,23.93],[0.85,23.96],[1.3,23.91]
];

const haloRight = [
[0.72,19.85],[0.95,19.92],[1.2,19.88],[0.66,20.05],[0.84,20.12],[1.05,20.02],[1.38,20.08],[0.61,20.25],[0.78,20.31],[0.99,20.22],[1.25,20.35],[1.62,20.28],[0.7,20.45],[0.88,20.52],[1.12,20.41],[1.45,20.55],[0.64,20.66],[0.81,20.72],[1.02,20.61],[1.3,20.78],[1.78,20.68],[0.6,20.88],[0.75,20.95],[0.93,20.83],[1.18,20.91],[1.52,20.98],[0.66,21.08],[0.86,21.15],[1.08,21.04],[1.36,21.19],[1.7,21.1],[0.63,21.28],[0.79,21.35],[0.97,21.24],[1.22,21.32],[1.58,21.41],[0.68,21.5],[0.84,21.56],[1.04,21.46],[1.29,21.6],[1.85,21.52],[0.72,21.7],[0.9,21.78],[1.13,21.68],[1.42,21.8],[0.76,21.9],[0.95,21.97],[1.19,21.86],[1.5,22.0],[1.9,21.94],[0.8,22.1],[1.0,22.16],[1.26,22.05],[1.6,22.2],[0.92,22.3],[1.08,22.38],[1.35,22.27],[1.72,22.42],[0.98,22.52],[1.15,22.58],[1.42,22.48],[1.66,22.63],[1.06,22.72],[1.24,22.78],[1.5,22.69],[1.82,22.84],[1.1,22.92],[1.3,22.98],[1.58,22.88],[1.25,23.12],[1.45,23.18],[1.7,23.06],[1.32,23.3],[1.55,23.36],[1.88,23.25],[1.4,23.48],[1.65,23.55],[1.78,23.72],[1.5,23.85],[1.92,23.6],[0.58,20.15],[0.56,20.78],[0.62,21.42],[0.7,21.95],[0.6,19.95],[0.9,20.42],[1.1,20.65],[0.74,21.22],[0.86,21.62],[1.02,21.86],[1.16,22.25],[1.2,22.65],[0.88,20.02],[0.98,20.72],[1.05,21.3],[1.12,21.92],[1.28,22.52],[1.38,22.9]
];

const haloLeft = [
[-0.3,19.72],[-0.45,19.9],[-0.28,20.05],[-0.38,20.22],[-0.52,20.35],[-0.3,20.48],[-0.42,20.6],[-0.27,20.72],[-0.35,20.85],[-0.48,20.95],[-0.29,21.05],[-0.4,21.18],[-0.26,21.3],[-0.33,21.42],[-0.46,21.5],[-0.27,21.62],[-0.38,21.72],[-0.24,21.85],[-0.31,21.95],[-0.43,22.08],[-0.2,22.15],[-0.28,22.25],[-0.36,22.35],[-0.15,22.42],[-0.22,22.55],[-0.12,22.65],[-0.3,22.72],[-0.08,22.82],[-0.18,22.9],[-0.05,23.05],[-0.25,23.15],[0.0,23.25],[-0.12,23.4],[0.05,23.55],[-0.35,19.55],[-0.58,20.15],[-0.62,20.9],[-0.55,21.7],[-0.5,22.35],[-0.4,22.85],[-0.32,20.32],[-0.26,20.95],[-0.34,21.25],[-0.29,21.8],[-0.25,22.45]
];

const sparseStars = [].concat(fieldStars, hbStars, topArc, rgbStars, msBottom, haloRight, haloLeft);
const mediumStars = [].concat(sgbStars, msEdgeLeft, msEdgeRight, msTail);
const denseStars = [].concat(msUpper, msMiddle, msLower, msFill);

// ---- rendering helpers ----
const BLACK = '#000';
function arrowRenderer(dashed, width, headLen, headHalf) {
  return function (params, api) {
    const p1 = api.coord([api.value(0), api.value(1)]);
    const p2 = api.coord([api.value(2), api.value(3)]);
    const dx = p2[0] - p1[0], dy = p2[1] - p1[1];
    const L = Math.sqrt(dx * dx + dy * dy) || 1;
    const ux = dx / L, uy = dy / L, nx = -uy, ny = ux;
    const bx = p2[0] - ux * headLen, by = p2[1] - uy * headLen;
    return {
      type: 'group',
      children: [
        { type: 'line', shape: { x1: p1[0], y1: p1[1], x2: p2[0], y2: p2[1] },
          style: { stroke: BLACK, lineWidth: width, lineDash: dashed ? [18, 10] : null } },
        { type: 'polyline', shape: { points: [[bx + nx * headHalf, by + ny * headHalf], [p2[0], p2[1]], [bx - nx * headHalf, by - ny * headHalf]] },
          style: { stroke: BLACK, lineWidth: 2, fill: null } }
      ]
    };
  };
}

const serif = '"Liberation Serif", "DejaVu Serif", serif';
const textFont = '"DejaVu Serif", "Liberation Serif", serif';

const chart = echarts.init(document.getElementById('c'), null, { renderer: 'canvas' });
chart.setOption({
  animation: false,
  backgroundColor: '#fff',
  grid: { left: 112, right: 9, top: 5, bottom: 90, show: true, borderColor: BLACK, borderWidth: 2, backgroundColor: 'transparent' },
  xAxis: {
    type: 'value', min: -3, max: 2, interval: 1,
    axisLine: { show: true, onZero: false, lineStyle: { color: BLACK, width: 2 } },
    axisTick: { show: true, inside: true, length: 18, lineStyle: { color: BLACK, width: 2 } },
    minorTick: { show: true, splitNumber: 5, length: 9, lineStyle: { color: BLACK, width: 2 } },
    splitLine: { show: false },
    axisLabel: {
      margin: 15, color: BLACK, fontFamily: serif, fontSize: 27,
      formatter: function (v) { return xTickValues.indexOf(v) >= 0 ? String(v).replace('-', '\u2212') : ''; }
    }
  },
  yAxis: {
    type: 'value', min: 14.5, max: 24, inverse: true, minInterval: 1, maxInterval: 1, splitNumber: 10,
    axisLine: { show: true, onZero: false, lineStyle: { color: BLACK, width: 2 } },
    axisTick: { show: true, inside: true, length: 18, lineStyle: { color: BLACK, width: 2 } },
    minorTick: { show: true, splitNumber: 5, length: 9, lineStyle: { color: BLACK, width: 2 } },
    splitLine: { show: false },
    axisLabel: {
      margin: 17, color: BLACK, fontFamily: serif, fontSize: 27, showMinLabel: false, showMaxLabel: false,
      formatter: function (v) { return yTickValues.indexOf(v) >= 0 ? String(v) : ''; }
    }
  },
  graphic: [
    { type: 'text', x: 313, y: 1081, style: { text: 'U', font: '30px ' + serif, fill: BLACK, align: 'left', verticalAlign: 'middle' } },
    { type: 'text', x: 337, y: 1093, style: { text: '336', font: '22px ' + serif, fill: BLACK, align: 'left', verticalAlign: 'middle' } },
    { type: 'text', x: 398, y: 1081, style: { text: '\u2212', font: '30px ' + serif, fill: BLACK, align: 'left', verticalAlign: 'middle' } },
    { type: 'text', x: 441, y: 1081, style: { text: 'R', font: '30px ' + serif, fill: BLACK, align: 'left', verticalAlign: 'middle' } },
    { type: 'text', x: 464, y: 1093, style: { text: '675', font: '22px ' + serif, fill: BLACK, align: 'left', verticalAlign: 'middle' } },
    { type: 'text', x: 27, y: 572, rotation: Math.PI / 2, style: { text: 'U', font: '30px ' + serif, fill: BLACK, align: 'left', verticalAlign: 'middle' } },
    { type: 'text', x: 38, y: 549, rotation: Math.PI / 2, style: { text: '336', font: '22px ' + serif, fill: BLACK, align: 'left', verticalAlign: 'middle' } }
  ],
  series: [
    {
      type: 'scatter', name: 'stars', data: sparseStars, symbol: 'rect', symbolSize: 2,
      itemStyle: { color: '#1a1a1a' }, silent: true, z: 2, large: false
    },
    {
      type: 'scatter', name: 'subgiantsAndEdges', data: mediumStars, symbol: 'circle', symbolSize: 2.8,
      itemStyle: { color: '#222' }, silent: true, z: 2, large: false
    },
    {
      type: 'scatter', name: 'mainSequence', data: denseStars, symbol: 'circle', symbolSize: 3.6,
      itemStyle: { color: '#141414' }, silent: true, z: 2, large: false
    },
    {
      type: 'custom', name: 'dnArrows', data: dnArrows, encode: { x: [0, 2], y: [1, 3] },
      renderItem: arrowRenderer(true, 2, 11, 4.5), z: 4, silent: true
    },
    {
      type: 'custom', name: 'blueArrow', data: blueArrow, encode: { x: [0, 2], y: [1, 3] },
      renderItem: arrowRenderer(false, 1.5, 20, 4), z: 4, silent: true
    },
    {
      type: 'scatter', name: 'dwarfNovae', data: dnQuiescent.concat(dnEruption), symbol: 'triangle', symbolSize: [18, 15],
      itemStyle: { color: 'rgba(0,0,0,0)', borderColor: BLACK, borderWidth: 2 }, z: 5, silent: true
    },
    {
      type: 'scatter', name: 'blueObject', data: blueObject, symbol: 'circle', symbolSize: 15,
      itemStyle: { color: 'rgba(0,0,0,0)', borderColor: BLACK, borderWidth: 1.8 }, z: 5, silent: true
    },
    {
      type: 'scatter', name: 'tSco', data: tSco,
      symbol: 'path://M0,-10 L2.9,-5 L8.66,-5 L5.8,0 L8.66,5 L2.9,5 L0,10 L-2.9,5 L-8.66,5 L-5.8,0 L-8.66,-5 L-2.9,-5 Z',
      symbolSize: 13, itemStyle: { color: 'rgba(0,0,0,0)', borderColor: BLACK, borderWidth: 1.5 }, z: 5, silent: true
    },
    {
      type: 'scatter', name: 'labels', symbol: 'circle', symbolSize: 1, silent: true, z: 6,
      itemStyle: { color: 'rgba(0,0,0,0)' },
      data: annotationLabels.map(function (a) {
        return {
          value: a.at,
          label: { show: true, formatter: a.text, position: a.side, distance: 0, color: BLACK,
                   fontFamily: textFont, fontSize: 26, textBorderColor: BLACK, textBorderWidth: 0.5 }
        };
      })
    }
  ]
});
</script>
</body>
</html>
